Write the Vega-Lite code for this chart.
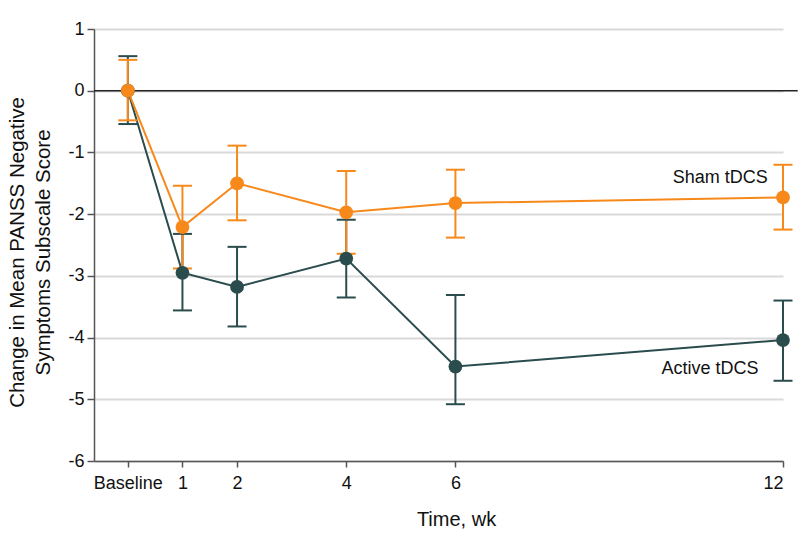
{
  "$schema": "https://vega.github.io/schema/vega-lite/v6.json",
  "autosize": {"type": "none"},
  "width": 689,
  "height": 432,
  "padding": {"left": 94, "top": 29, "right": 15, "bottom": 85},
  "background": "white",
  "config": {
    "view": {"stroke": null},
    "font": "Liberation Sans",
    "axis": {"labelFont": "Liberation Sans", "titleFont": "Liberation Sans", "labelColor": "#111", "titleColor": "#111", "titleFontWeight": "normal", "labelFontSize": 18, "titleFontSize": 20, "tickColor": "#555", "tickWidth": 1.5, "domainColor": "#555", "domainWidth": 1.5},
    "axisX": {"grid": false, "tickSize": 6, "labelPadding": 7},
    "axisY": {"gridColor": "#d9d9d9", "gridWidth": 2, "tickSize": 7, "labelPadding": 3, "titleFontSize": 20.5}
  },
  "datasets": {
    "pts": [
      {"group": "Active tDCS", "week": 0, "mean": 0, "lo": -0.54, "hi": 0.56},
      {"group": "Active tDCS", "week": 1, "mean": -2.95, "lo": -3.56, "hi": -2.32},
      {"group": "Active tDCS", "week": 2, "mean": -3.18, "lo": -3.82, "hi": -2.53},
      {"group": "Active tDCS", "week": 4, "mean": -2.72, "lo": -3.35, "hi": -2.09},
      {"group": "Active tDCS", "week": 6, "mean": -4.47, "lo": -5.08, "hi": -3.31},
      {"group": "Active tDCS", "week": 12, "mean": -4.04, "lo": -4.70, "hi": -3.40},
      {"group": "Sham tDCS", "week": 0, "mean": 0, "lo": -0.48, "hi": 0.50},
      {"group": "Sham tDCS", "week": 1, "mean": -2.21, "lo": -2.88, "hi": -1.54},
      {"group": "Sham tDCS", "week": 2, "mean": -1.50, "lo": -2.10, "hi": -0.89},
      {"group": "Sham tDCS", "week": 4, "mean": -1.97, "lo": -2.64, "hi": -1.30},
      {"group": "Sham tDCS", "week": 6, "mean": -1.82, "lo": -2.38, "hi": -1.28},
      {"group": "Sham tDCS", "week": 12, "mean": -1.73, "lo": -2.25, "hi": -1.20}
    ],
    "labels": [
      {"group": "Sham tDCS", "x": 11.72, "y": -1.41},
      {"group": "Active tDCS", "x": 11.55, "y": -4.51}
    ],
    "zero": [{"x": -0.62, "x2": 12.27, "y": 0}]
  },
  "layer": [
    {
      "data": {"name": "pts"},
      "mark": {"type": "point", "filled": true, "size": 190, "opacity": 0},
      "encoding": {
        "x": {
          "field": "week", "type": "quantitative",
          "scale": {"domain": [-0.62, 12], "nice": false, "zero": false},
          "axis": {
            "values": [0, 1, 2, 4, 6, 12],
            "labelExpr": "datum.value == 0 ? 'Baseline' : '' + datum.value",
            "grid": false,
            "title": "Time, wk",
            "titleX": 362,
            "titleY": 64,
            "titleBaseline": "alphabetic",
            "titleAnchor": "middle"
          }
        },
        "y": {
          "field": "mean", "type": "quantitative",
          "scale": {"domain": [-6, 1], "nice": false, "zero": false},
          "axis": {
            "values": [-6, -5, -4, -3, -2, -1, 0, 1],
            "labelExpr": "'' + datum.value",
            "grid": true,
            "title": ["Change in Mean PANSS Negative", "Symptoms Subscale Score"],
            "titleLineHeight": 26,
            "titleAngle": -90,
            "titleBaseline": "top",
            "titleX": -87,
            "titleY": 223,
            "titleAnchor": "middle"
          }
        },
        "color": {"field": "group", "type": "nominal", "scale": {"domain": ["Active tDCS", "Sham tDCS"], "range": ["#2b4c4d", "#f7891b"]}, "legend": null}
      }
    },
    {
      "data": {"name": "zero"},
      "mark": {"type": "rule", "color": "#222", "strokeWidth": 1.5},
      "encoding": {
        "x": {"field": "x", "type": "quantitative"},
        "x2": {"field": "x2"},
        "y": {"field": "y", "type": "quantitative"}
      }
    },
    {
      "data": {"name": "pts"},
      "mark": {"type": "line", "strokeWidth": 2},
      "encoding": {
        "x": {"field": "week", "type": "quantitative"},
        "y": {"field": "mean", "type": "quantitative"},
        "color": {"field": "group", "type": "nominal", "legend": null},
        "order": {"field": "week"}
      }
    },
    {
      "data": {"name": "pts"},
      "mark": {"type": "rule", "strokeWidth": 2},
      "encoding": {
        "x": {"field": "week", "type": "quantitative"},
        "y": {"field": "lo", "type": "quantitative"},
        "y2": {"field": "hi"},
        "color": {"field": "group", "type": "nominal", "legend": null}
      }
    },
    {
      "data": {"name": "pts"},
      "mark": {"type": "tick", "orient": "horizontal", "size": 19, "thickness": 2, "opacity": 1},
      "encoding": {
        "x": {"field": "week", "type": "quantitative"},
        "y": {"field": "lo", "type": "quantitative"},
        "color": {"field": "group", "type": "nominal", "legend": null}
      }
    },
    {
      "data": {"name": "pts"},
      "mark": {"type": "tick", "orient": "horizontal", "size": 19, "thickness": 2, "opacity": 1},
      "encoding": {
        "x": {"field": "week", "type": "quantitative"},
        "y": {"field": "hi", "type": "quantitative"},
        "color": {"field": "group", "type": "nominal", "legend": null}
      }
    },
    {
      "data": {"name": "pts"},
      "mark": {"type": "point", "filled": true, "size": 190, "opacity": 1},
      "encoding": {
        "x": {"field": "week", "type": "quantitative"},
        "y": {"field": "mean", "type": "quantitative"},
        "color": {"field": "group", "type": "nominal", "legend": null}
      }
    },
    {
      "data": {"name": "labels"},
      "mark": {"type": "text", "align": "right", "baseline": "middle", "fontSize": 18, "color": "#111", "font": "Liberation Sans"},
      "encoding": {
        "x": {"field": "x", "type": "quantitative"},
        "y": {"field": "y", "type": "quantitative"},
        "text": {"field": "group"}
      }
    }
  ]
}
